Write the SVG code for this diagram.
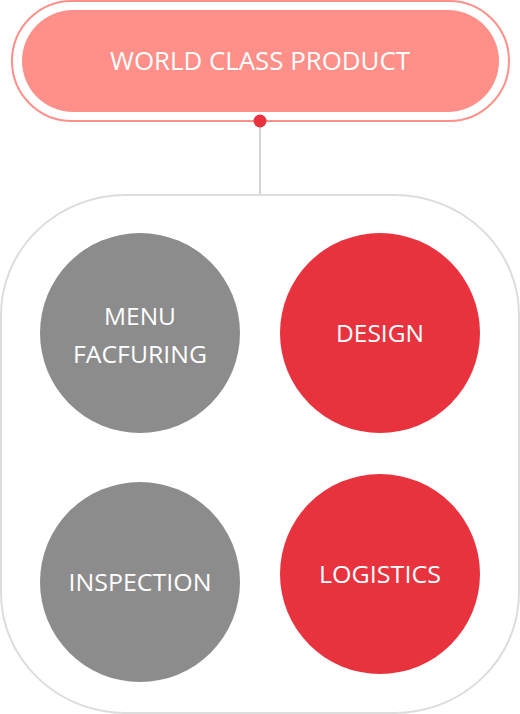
<svg xmlns="http://www.w3.org/2000/svg" width="520" height="714" viewBox="0 0 520 714">
<style>
.lbl{font-family:"Open Sans","Noto Sans","Liberation Sans",sans-serif;font-weight:400;fill:#ffffff;text-anchor:middle}
.gray{fill:#8c8c8c}
.red{fill:#e8333f}
</style>
<rect width="520" height="714" fill="#ffffff"/>
<g id="connectors">
<line x1="260" y1="121" x2="260" y2="195" stroke="#d4d4d4" stroke-width="2"/>
</g>
<g id="container">
<rect x="1" y="195" width="518" height="518" rx="125" ry="120" fill="none" stroke="#dcdcdc" stroke-width="2"/>
</g>
<g id="world-class-product">
<rect x="12" y="1" width="497" height="120" rx="60" fill="none" stroke="#ff8f89" stroke-width="2"/>
<rect x="22" y="10" width="477" height="102" rx="51" fill="#ff8f89"/>
<text class="lbl" x="260" y="70" font-size="25.5" textLength="300" lengthAdjust="spacingAndGlyphs">WORLD CLASS PRODUCT</text>
</g>
<g id="dot">
<circle cx="260" cy="121" r="6.5" class="red"/>
</g>
<g id="menu-facfuring">
<circle cx="140" cy="333" r="100" class="gray"/>
<text class="lbl" x="140" y="325" font-size="24.5">MENU</text>
<text class="lbl" x="140" y="363" font-size="24.5" textLength="134" lengthAdjust="spacingAndGlyphs">FACFURING</text>
</g>
<g id="design">
<circle cx="380" cy="333" r="100" class="red"/>
<text class="lbl" x="380" y="342" font-size="24.5">DESIGN</text>
</g>
<g id="inspection">
<circle cx="140" cy="582" r="100" class="gray"/>
<text class="lbl" x="140" y="591" font-size="24.5" textLength="143" lengthAdjust="spacingAndGlyphs">INSPECTION</text>
</g>
<g id="logistics">
<circle cx="380" cy="574" r="100" class="red"/>
<text class="lbl" x="380" y="583" font-size="24.5" textLength="122" lengthAdjust="spacingAndGlyphs">LOGISTICS</text>
</g>
</svg>
